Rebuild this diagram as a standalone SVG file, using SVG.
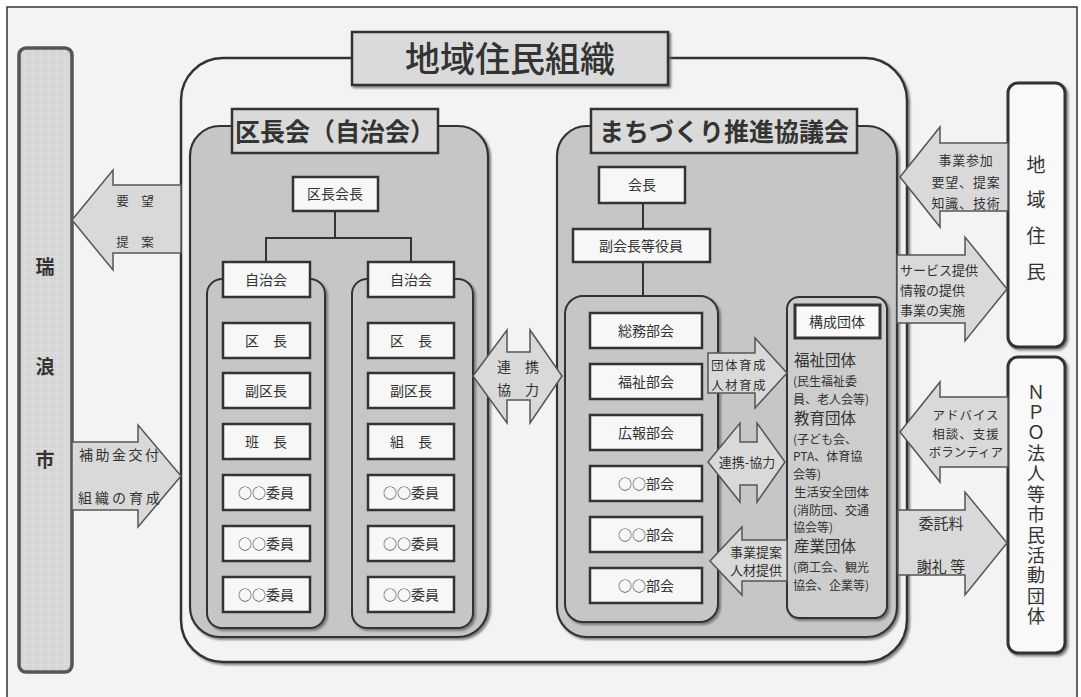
<svg xmlns="http://www.w3.org/2000/svg" width="1081" height="697" viewBox="0 0 1081 697">
<defs>
<filter id="sh" x="-10%" y="-10%" width="130%" height="130%">
<feDropShadow dx="2" dy="2" stdDeviation="0.8" flood-color="#666" flood-opacity="0.8"/>
</filter>
<pattern id="grid" width="8" height="8" patternUnits="userSpaceOnUse">
<rect width="8" height="8" fill="#d6d6d6"/>
<path d="M0 0H8M0 0V8" stroke="#e4e4e4" stroke-width="1"/>
</pattern>
</defs>
<style>
.t{font-family:"Noto Sans CJK JP","Noto Sans CJK SC",sans-serif;fill:#333;text-anchor:middle}
.l{text-anchor:start}
.box{fill:#f7f7f7;stroke:#333;stroke-width:2.5}
.hd{fill:#dadada;stroke:#333;stroke-width:2.5}
.panel{fill:#c6c6c6;stroke:#333;stroke-width:2.2}
.col{fill:#c6c6c6;stroke:#333;stroke-width:2}
.arr{fill:#d9d9d9;stroke:#555;stroke-width:1.5;stroke-linejoin:miter}
.ln{fill:none;stroke:#333;stroke-width:2}
.b14{font-size:14px}
.a13{font-size:13px;letter-spacing:0.8px}
.a12{font-size:12.5px;letter-spacing:1.5px}
.big{font-size:15.5px}
.sm{font-size:12px}
</style>
<rect x="0" y="0" width="1081" height="697" fill="#ffffff"/>
<rect x="7" y="7" width="1070" height="700" fill="#f3f3f3" stroke="#333" stroke-width="1.5"/>

<g id="mizunami">
<rect x="19" y="48" width="53" height="624" rx="7" fill="url(#grid)" stroke="#555" stroke-width="3.5"/>
<text class="t" x="45" y="274" font-size="19" font-weight="bold">瑞</text>
<text class="t" x="45" y="374" font-size="19" font-weight="bold">浪</text>
<text class="t" x="45" y="467" font-size="19" font-weight="bold">市</text>
</g>

<g id="chiiki-soshiki">
<rect x="181" y="58" width="726" height="604" rx="42" fill="#f3f3f3" stroke="#333" stroke-width="2.5" filter="url(#sh)"/>
<rect x="352" y="32" width="316" height="53" class="hd" stroke-width="2" filter="url(#sh)"/>
<text class="t" x="510" y="72" font-size="35" font-weight="500">地域住民組織</text>
</g>

<g id="kuchokai">
<rect x="190" y="126" width="298" height="511" rx="30" class="panel" filter="url(#sh)"/>
<rect x="232" y="109" width="206" height="44" class="hd" stroke-width="3"/>
<text class="t" x="335" y="141" font-size="25" font-weight="bold">区長会（自治会）</text>
</g>

<g id="machizukuri">
<rect x="557" y="126" width="340" height="511" rx="30" class="panel" filter="url(#sh)"/>
<rect x="591" y="109" width="266" height="44" class="hd" stroke-width="3"/>
<text class="t" x="724" y="141" font-size="25" font-weight="bold">まちづくり推進協議会</text>
</g>

<g id="connectors">
<path class="ln" d="M335 211V238M266 262V238H411V262"/>
<path class="ln" d="M643 203V229M643 262V296"/>
</g>

<g id="kuchokaicho">
<rect x="293" y="177" width="85" height="34" class="box"/>
<text class="t b14" x="335" y="199">区長会長</text>
</g>

<g id="jichikai-1">
<rect x="207" y="279" width="118" height="349" rx="15" class="col" filter="url(#sh)"/>
<rect x="223" y="262" width="87" height="35" class="box"/>
<text class="t b14" x="266" y="285">自治会</text>
<rect x="223" y="323" width="87" height="35" class="box"/>
<text class="t b14" x="266" y="346">区　長</text>
<rect x="223" y="373" width="87" height="35" class="box"/>
<text class="t b14" x="266" y="396">副区長</text>
<rect x="223" y="424" width="87" height="35" class="box"/>
<text class="t b14" x="266" y="447">班　長</text>
<rect x="223" y="475" width="87" height="35" class="box"/>
<text class="t b14" x="266" y="498">○○委員</text>
<rect x="223" y="526" width="87" height="35" class="box"/>
<text class="t b14" x="266" y="549">○○委員</text>
<rect x="223" y="577" width="87" height="35" class="box"/>
<text class="t b14" x="266" y="600">○○委員</text>
</g>

<g id="jichikai-2">
<rect x="352" y="279" width="121" height="349" rx="15" class="col" filter="url(#sh)"/>
<rect x="368" y="262" width="86" height="35" class="box"/>
<text class="t b14" x="411" y="285">自治会</text>
<rect x="368" y="323" width="86" height="35" class="box"/>
<text class="t b14" x="411" y="346">区　長</text>
<rect x="368" y="373" width="86" height="35" class="box"/>
<text class="t b14" x="411" y="396">副区長</text>
<rect x="368" y="424" width="86" height="35" class="box"/>
<text class="t b14" x="411" y="447">組　長</text>
<rect x="368" y="475" width="86" height="35" class="box"/>
<text class="t b14" x="411" y="498">○○委員</text>
<rect x="368" y="526" width="86" height="35" class="box"/>
<text class="t b14" x="411" y="549">○○委員</text>
<rect x="368" y="577" width="86" height="35" class="box"/>
<text class="t b14" x="411" y="600">○○委員</text>
</g>

<g id="kaicho">
<rect x="599" y="167" width="86" height="36" class="box"/>
<text class="t b14" x="642" y="190">会長</text>
<rect x="573" y="229" width="137" height="33" class="box"/>
<text class="t b14" x="641" y="251">副会長等役員</text>
</g>

<g id="bukai">
<rect x="565" y="296" width="153" height="326" rx="18" class="col" filter="url(#sh)"/>
<rect x="590" y="313" width="112" height="35" class="box"/>
<text class="t b14" x="646" y="336">総務部会</text>
<rect x="590" y="364" width="112" height="35" class="box"/>
<text class="t b14" x="646" y="387">福祉部会</text>
<rect x="590" y="415" width="112" height="35" class="box"/>
<text class="t b14" x="646" y="438">広報部会</text>
<rect x="590" y="466" width="112" height="35" class="box"/>
<text class="t b14" x="646" y="489">○○部会</text>
<rect x="590" y="517" width="112" height="35" class="box"/>
<text class="t b14" x="646" y="540">○○部会</text>
<rect x="590" y="568" width="112" height="35" class="box"/>
<text class="t b14" x="646" y="591">○○部会</text>
</g>

<g id="kosei-dantai">
<rect x="787" y="297" width="100" height="321" rx="12" fill="#cdcdcd" stroke="#333" stroke-width="2" filter="url(#sh)"/>
<rect x="795" y="305" width="85" height="33" fill="#f9f9f9" stroke="#333" stroke-width="3"/>
<text class="t b14" x="837" y="327">構成団体</text>
<text class="t l big" x="794" y="366">福祉団体</text>
<text class="t l sm" x="793" y="386">(民生福祉委</text>
<text class="t l sm" x="793" y="403.5">員、老人会等)</text>
<text class="t l big" x="794" y="423.5">教育団体</text>
<text class="t l sm" x="793" y="443.5">(子ども会、</text>
<text class="t l sm" x="793" y="461">PTA、体育協</text>
<text class="t l sm" x="793" y="478.5">会等)</text>
<text class="t l" x="794" y="496.5" font-size="12.5">生活安全団体</text>
<text class="t l sm" x="793" y="514.5">(消防団、交通</text>
<text class="t l sm" x="793" y="532">協会等)</text>
<text class="t l big" x="794" y="552">産業団体</text>
<text class="t l sm" x="793" y="572">(商工会、観光</text>
<text class="t l sm" x="793" y="589.5">協会、企業等)</text>
</g>

<g id="chiiki-jumin">
<rect x="1008" y="83" width="57" height="264" rx="10" fill="#f9f9f9" stroke="#333" stroke-width="3" filter="url(#sh)"/>
<text class="t" x="1036" y="172" font-size="19">地</text>
<text class="t" x="1036" y="207" font-size="19">域</text>
<text class="t" x="1036" y="243" font-size="19">住</text>
<text class="t" x="1036" y="279" font-size="19">民</text>
</g>

<g id="npo">
<rect x="1008" y="357" width="57" height="296" rx="10" fill="#f9f9f9" stroke="#333" stroke-width="3" filter="url(#sh)"/>
<text class="t l" x="1036" y="383" font-size="18" letter-spacing="2.4" writing-mode="vertical-rl" style="writing-mode:vertical-rl">ＮＰＯ法人等市民活動団体</text>
</g>

<g id="arrows">
<polygon class="arr" points="72,220 113,170 113,185 181,185 181,253 113,253 113,270"/>
<text class="t" x="135" y="206" font-size="12.5">要　望</text>
<text class="t" x="135" y="247" font-size="12.5">提　案</text>

<polygon class="arr" points="72,442 138,442 138,425 181,476 138,527 138,510 72,510"/>
<text class="t l" x="79" y="460" font-size="14" letter-spacing="2.5">補助金交付</text>
<text class="t l" x="78" y="503" font-size="14" letter-spacing="3">組織の育成</text>

<polygon class="arr" points="473,376 507,330 507,352 530,352 530,330 562,376 530,423 530,400 507,400 507,423"/>
<text class="t" x="518" y="372" font-size="14">連　携</text>
<text class="t" x="518" y="395" font-size="14">協　力</text>

<polygon class="arr" points="708,353 755,353 755,338 787,373 755,408 755,393 708,393"/>
<text class="t l a12" x="711" y="370">団体育成</text>
<text class="t l a12" x="711" y="390">人材育成</text>

<polygon class="arr" points="708,462 740,423 740,442 757,442 757,423 785,462 757,502 757,485 740,485 740,502"/>
<text class="t" x="747" y="467" font-size="13">連携-協力</text>

<polygon class="arr" points="710,561 742,527 742,540 787,540 787,581 742,581 742,595"/>
<text class="t" x="756" y="557" font-size="13">事業提案</text>
<text class="t" x="756" y="575" font-size="13">人材提供</text>

<polygon class="arr" points="900,177 940,127 940,143 1008,143 1008,211 940,211 940,227"/>
<text class="t a13" x="966" y="165">事業参加</text>
<text class="t a13" x="966" y="187">要望、提案</text>
<text class="t a13" x="966" y="208">知識、技術</text>

<polygon class="arr" points="897,255 965,255 965,237 1007,289 965,341 965,323 897,323"/>
<text class="t l" x="900" y="275" font-size="13">サービス提供</text>
<text class="t l" x="900" y="295" font-size="13">情報の提供</text>
<text class="t l" x="900" y="315" font-size="13">事業の実施</text>

<polygon class="arr" points="900,432 940,382 940,397 1008,397 1008,467 940,467 940,482"/>
<text class="t" x="966" y="420" font-size="12.5" letter-spacing="1">アドバイス</text>
<text class="t" x="966" y="438.5" font-size="12.5" letter-spacing="1">相談、支援</text>
<text class="t" x="966" y="457" font-size="12.5">ボランティア</text>

<polygon class="arr" points="898,510 965,510 965,492 1007,543 965,595 965,575 898,575"/>
<text class="t" x="941" y="529" font-size="15">委託料</text>
<text class="t" x="941" y="572" font-size="15">謝礼 等</text>
</g>
</svg>
